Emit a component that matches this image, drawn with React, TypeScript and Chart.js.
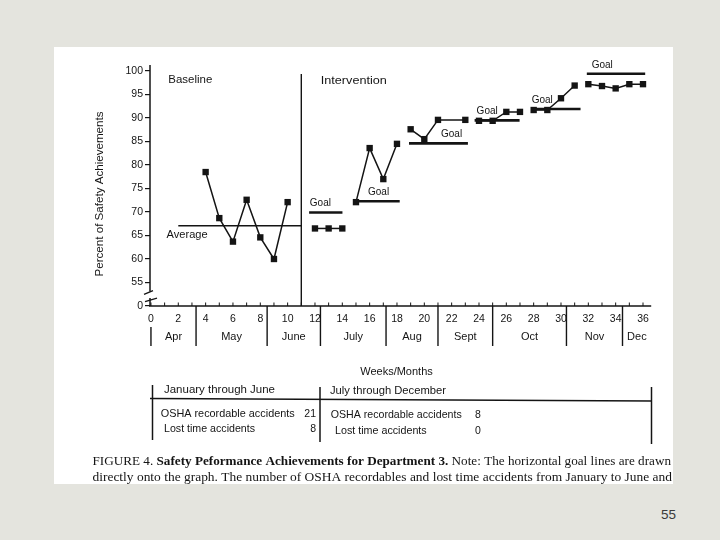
import React, { useEffect, useRef } from 'react';
import { Chart, registerables } from 'chart.js';

Chart.register(...registerables);

// ---------- data ----------
const xTickWeeks = [0, 2, 4, 6, 8, 10, 12, 14, 16, 18, 20, 22, 24, 26, 28, 30, 32, 34, 36];
const yTickValues = [50, 55, 60, 65, 70, 75, 80, 85, 90, 95, 100];
const yTickLabels = ['0', '55', '60', '65', '70', '75', '80', '85', '90', '95', '100'];

const baselineWeeks = [4, 5, 6, 7, 8, 9, 10];
const baselineValues = [78.5, 68.7, 63.7, 72.6, 64.6, 60.0, 72.1];
const seg1Weeks = [12, 13, 14];
const seg1Values = [66.5, 66.5, 66.5];
const seg2Weeks = [15, 16, 17, 18];
const seg2Values = [72.1, 83.6, 77.0, 84.5];
const seg3Weeks = [19, 20, 21, 23];
const seg3Values = [87.6, 85.5, 89.6, 89.6];
const seg4Weeks = [24, 25, 26, 27];
const seg4Values = [89.4, 89.4, 91.3, 91.3];
const seg5Weeks = [28, 29, 30, 31];
const seg5Values = [91.7, 91.7, 94.2, 96.9];
const seg6Weeks = [32, 33, 34, 35, 36];
const seg6Values = [97.2, 96.8, 96.3, 97.2, 97.2];

const averageWeeks = [2, 11];
const averageValue = 67.1;
const goalValues = [69.9, 72.3, 84.6, 89.5, 91.9, 99.4];
const goalStartWeeks = [11.57, 15.04, 18.88, 23.68, 27.83, 31.89];
const goalEndWeeks = [14.01, 18.2, 23.19, 26.97, 31.43, 36.16];
const phaseChangeWeek = 11;

const monthNames = ['Apr', 'May', 'June', 'July', 'Aug', 'Sept', 'Oct', 'Nov', 'Dec'];
const monthStartWeeks = [0, 3.3, 8.5, 12.4, 17.2, 21, 25, 30.4, 34.5];
const axisEndWeek = 36.6;

const tableHeaders = ['January through June', 'July through December'];
const tableRowLabels = ['OSHA recordable accidents', 'Lost time accidents'];
const firstHalfCounts = ['21', '8'];
const secondHalfCounts = ['8', '0'];

const captionLine1 = [
  { text: 'FIGURE 4. ', bold: false },
  { text: 'Safety Peformance Achievements for Department 3.', bold: true },
  { text: ' Note: The horizontal goal lines are drawn', bold: false },
];
const captionLine2 = [
  { text: 'directly onto the graph. The number of OSHA recordables and lost time accidents from January to June and', bold: false },
];

// ---------- style ----------
const INK = '#141414';
const SANS = '"Liberation Sans", Arial, sans-serif';
const SERIF = '"Liberation Serif", "Times New Roman", serif';
const OX = 54;
const OY = 47;
const CW = 619;
const CH = 437;
const goalLabelDx = [0.7, 11.5, 32, 2, 0.3, 4.8];

function seg(ctx: any, x1: number, y1: number, x2: number, y2: number) {
  ctx.beginPath();
  ctx.moveTo(x1, y1);
  ctx.lineTo(x2, y2);
  ctx.stroke();
}

function fitParts(ctx: any, parts: any[], x: number, y: number, width: number, size: number, family: string, baseline = 'alphabetic') {
  let total = 0;
  parts.forEach((p) => {
    ctx.font = `${p.bold ? 'bold ' : ''}${size}px ${family}`;
    total += ctx.measureText(p.text).width;
  });
  const sx = width / total;
  ctx.save();
  ctx.translate(x, y);
  ctx.scale(sx, 1);
  ctx.textAlign = 'left';
  ctx.textBaseline = baseline;
  let cx = 0;
  parts.forEach((p) => {
    ctx.font = `${p.bold ? 'bold ' : ''}${size}px ${family}`;
    ctx.fillText(p.text, cx, 0);
    cx += ctx.measureText(p.text).width;
  });
  ctx.restore();
}

function fitText(ctx: any, text: string, x: number, y: number, width: number, size: number) {
  fitParts(ctx, [{ text, bold: false }], x, y, width, size, SANS, 'middle');
}

const overlay = {
  id: 'overlay',
  afterDraw(chart: any) {
    const { ctx, chartArea: ca, scales } = chart;
    const X = (v: number) => scales.x.getPixelForValue(v);
    const Y = (v: number) => scales.y.getPixelForValue(v);
    ctx.save();
    ctx.strokeStyle = INK;
    ctx.fillStyle = INK;
    ctx.lineCap = 'butt';

    // broken y axis
    const ax = ca.left;
    ctx.lineWidth = 1.5;
    seg(ctx, ax, ca.top - 6, ax, Y(53.1));
    seg(ctx, ax, Y(51.7), ax, ca.bottom);
    ctx.lineWidth = 1.3;
    seg(ctx, ax - 6, Y(52.9) + 2, ax + 3, Y(52.9) - 1.8);
    seg(ctx, ax - 5, Y(51.3) + 1.8, ax + 7, Y(51.3) - 1.8);

    // x axis and weekly ticks
    ctx.lineWidth = 1.5;
    seg(ctx, ax - 1, ca.bottom, X(axisEndWeek), ca.bottom);
    ctx.lineWidth = 1;
    for (let w = 0; w <= 36; w++) seg(ctx, X(w), ca.bottom, X(w), ca.bottom - 3.5);

    // month boundaries + labels
    ctx.lineWidth = 1.4;
    monthStartWeeks.forEach((w, i) => {
      seg(ctx, X(w), i === 0 ? ca.bottom + 21 : ca.bottom, X(w), ca.bottom + 40);
    });
    ctx.font = `11px ${SANS}`;
    ctx.textAlign = 'center';
    ctx.textBaseline = 'middle';
    monthNames.forEach((m, i) => {
      const a = monthStartWeeks[i];
      const b = i + 1 < monthStartWeeks.length ? monthStartWeeks[i + 1] : axisEndWeek;
      ctx.fillText(m, X((a + b) / 2), ca.bottom + 31);
    });

    // phase change line
    ctx.lineWidth = 1.4;
    seg(ctx, X(phaseChangeWeek), ca.top + 3, X(phaseChangeWeek), ca.bottom);

    // phase titles
    fitText(ctx, 'Baseline', ca.left + 18.3, ca.top + 9, 44, 11);
    fitText(ctx, 'Intervention', X(phaseChangeWeek) + 19.5, ca.top + 9.7, 66, 11);
    fitText(ctx, 'Average', X(averageWeeks[0]) - 11.7, Y(averageValue) + 9.5, 41, 11);

    // goal labels
    ctx.font = `10px ${SANS}`;
    ctx.textAlign = 'left';
    ctx.textBaseline = 'middle';
    goalValues.forEach((g, i) => {
      ctx.fillText('Goal', X(goalStartWeeks[i]) + goalLabelDx[i], Y(g) - 9);
    });

    // y title
    ctx.save();
    ctx.translate(100 - OX, 194 - OY);
    ctx.rotate(-Math.PI / 2);
    fitText(ctx, 'Percent of Safety Achievements', -82.5, 0, 165, 11.5);
    ctx.restore();

    // ---- table and caption, page coordinates ----
    ctx.translate(-OX, -OY);
    ctx.lineWidth = 1.5;
    seg(ctx, 152.5, 385, 152.5, 440);
    seg(ctx, 320, 387, 320, 442);
    seg(ctx, 651.5, 387, 651.5, 444);
    seg(ctx, 150, 398.5, 652, 401);

    fitText(ctx, tableHeaders[0], 164, 390.5, 111, 10.5);
    fitText(ctx, tableHeaders[1], 330, 391.5, 116, 10.5);
    fitText(ctx, tableRowLabels[0], 160.7, 414, 134, 10.5);
    fitText(ctx, tableRowLabels[1], 164, 429, 91, 10.5);
    fitText(ctx, tableRowLabels[0], 330.7, 415.5, 131, 10.5);
    fitText(ctx, tableRowLabels[1], 335, 431, 91.7, 10.5);
    ctx.font = `10.5px ${SANS}`;
    ctx.textBaseline = 'middle';
    ctx.textAlign = 'right';
    ctx.fillText(firstHalfCounts[0], 316, 414);
    ctx.fillText(firstHalfCounts[1], 316, 429);
    ctx.textAlign = 'left';
    ctx.fillText(secondHalfCounts[0], 475, 415.5);
    ctx.fillText(secondHalfCounts[1], 475, 431);

    fitParts(ctx, captionLine1, 92.5, 464.5, 578.5, 13, SERIF);
    fitParts(ctx, captionLine2, 92.5, 481, 579.5, 13, SERIF);

    ctx.restore();
  },
};

export default function App() {
  const ref = useRef<HTMLCanvasElement | null>(null);

  useEffect(() => {
    const canvas = ref.current;
    if (!canvas) return;
    const seriesStyle = {
      borderColor: INK,
      backgroundColor: INK,
      borderWidth: 1.5,
      pointStyle: 'rect',
      pointRadius: 4.5,
      pointBorderWidth: 0,
      pointBackgroundColor: INK,
      clip: false,
      tension: 0,
    };
    const phases: [number[], number[]][] = [
      [baselineWeeks, baselineValues],
      [seg1Weeks, seg1Values],
      [seg2Weeks, seg2Values],
      [seg3Weeks, seg3Values],
      [seg4Weeks, seg4Values],
      [seg5Weeks, seg5Values],
      [seg6Weeks, seg6Values],
    ];
    const datasets: any[] = phases.map(([w, v]) => ({
      data: w.map((x, i) => ({ x, y: v[i] })),
      ...seriesStyle,
    }));
    goalValues.forEach((g, i) => {
      datasets.push({
        data: [
          { x: goalStartWeeks[i], y: g },
          { x: goalEndWeeks[i], y: g },
        ],
        borderColor: INK,
        borderWidth: 2.6,
        pointRadius: 0,
        clip: false,
      });
    });
    datasets.push({
      data: [
        { x: averageWeeks[0], y: averageValue },
        { x: averageWeeks[1], y: averageValue },
      ],
      borderColor: INK,
      borderWidth: 1.5,
      pointRadius: 0,
      clip: false,
    });

    const chart = new Chart(canvas, {
      type: 'line',
      data: { datasets },
      plugins: [overlay],
      options: {
        responsive: false,
        animation: false,
        events: [],
        layout: { padding: { left: 0, top: 24, right: 30, bottom: CH - 259 - 76 } },
        plugins: { legend: { display: false }, tooltip: { enabled: false } },
        scales: {
          x: {
            type: 'linear',
            min: -0.07,
            max: 36,
            afterBuildTicks: (s: any) => {
              s.ticks = xTickWeeks.map((v) => ({ value: v }));
            },
            afterFit: (s: any) => {
              s.height = 76;
            },
            grid: { display: false, drawTicks: false },
            border: { display: false },
            ticks: {
              autoSkip: false,
              maxRotation: 0,
              padding: 7,
              color: INK,
              font: { family: SANS, size: 10.5 },
              callback: (v: any) => String(v),
            },
            title: {
              display: true,
              text: 'Weeks/Months',
              color: INK,
              font: { family: SANS, size: 11 },
              padding: 3.4,
            },
          },
          y: {
            type: 'linear',
            min: 50,
            max: 100,
            afterBuildTicks: (s: any) => {
              s.ticks = yTickValues.map((v) => ({ value: v }));
            },
            afterFit: (s: any) => {
              s.width = 96;
            },
            grid: { display: true, drawOnChartArea: false, drawTicks: true, tickLength: 5, color: INK, lineWidth: 1.2 },
            border: { display: false },
            ticks: {
              padding: 2,
              color: INK,
              font: { family: SANS, size: 10.5 },
              callback: (v: any) => {
                const i = yTickValues.indexOf(v);
                return i >= 0 ? yTickLabels[i] : '';
              },
            },
          },
        },
      } as any,
    });
    return () => chart.destroy();
  }, []);

  return (
    <div style={{ position: 'fixed', left: 0, top: 0, width: 720, height: 540, background: '#e4e4de', overflow: 'hidden' }}>
      <div style={{ position: 'absolute', left: OX, top: OY, width: CW, height: CH, background: '#ffffff', overflow: 'hidden' }}>
        <canvas ref={ref} width={CW} height={CH} style={{ display: 'block' }} />
      </div>
      <div
        style={{
          position: 'absolute',
          left: 661,
          top: 508,
          fontFamily: SANS,
          fontSize: 13.5,
          lineHeight: '13.5px',
          color: '#3a3a3a',
        }}
      >
        55
      </div>
    </div>
  );
}
